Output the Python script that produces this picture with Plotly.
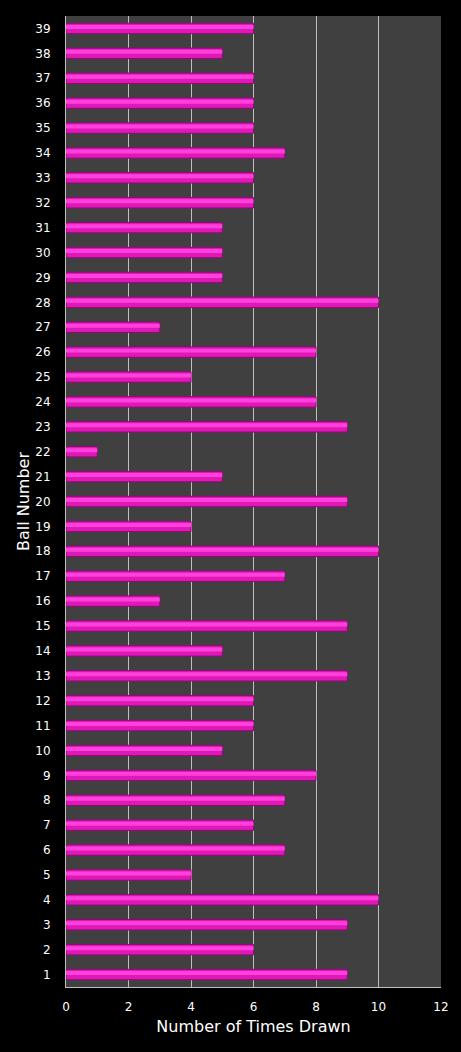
import plotly.graph_objects as go

balls = list(range(1, 40))
times_drawn = [9, 6, 9, 10, 4, 7, 6, 7, 8, 5,
               6, 6, 9, 5, 9, 3, 7, 10, 4, 9,
               5, 1, 9, 8, 4, 8, 3, 10, 5, 5,
               5, 6, 6, 7, 6, 6, 6, 5, 6]
x_ticks = [0, 2, 4, 6, 8, 10, 12]

fig = go.Figure()
fig.add_trace(go.Bar(
    x=times_drawn, y=balls, orientation="h", width=0.42,
    marker=dict(color="#E018B8", line=dict(color="#8A0C72", width=1)),
    hoverinfo="x+y", showlegend=False,
))
fig.add_trace(go.Bar(
    x=times_drawn, y=balls, orientation="h", width=0.16, offset=-0.02,
    marker=dict(color="#FF40DC", line=dict(width=0)),
    hoverinfo="skip", showlegend=False,
))
fig.update_layout(
    width=461, height=1052,
    paper_bgcolor="#000000", plot_bgcolor="#404040",
    margin=dict(l=66, r=20, t=16, b=65),
    barmode="overlay",
    font=dict(family="DejaVu Sans", color="#FFFFFF", size=12),
    xaxis=dict(range=[0, 12], tickvals=x_ticks, showgrid=True,
               gridcolor="#BFBFBF", gridwidth=1, zeroline=False,
               showline=True, linecolor="#BFBFBF", linewidth=1,
               ticks="outside", ticklen=9, tickcolor="rgba(0,0,0,0)",
               tickfont=dict(size=12, color="#FFFFFF"),
               title=dict(text="Number of Times Drawn", font=dict(size=16, color="#FFFFFF"), standoff=7)),
    yaxis=dict(range=[0.5, 39.5], tickvals=balls, ticktext=[str(b) for b in balls],
               showgrid=False, zeroline=False, showline=True,
               linecolor="#BFBFBF", linewidth=1,
               ticks="outside", ticklen=12, tickcolor="rgba(0,0,0,0)",
               tickfont=dict(size=12, color="#FFFFFF"),
               title=dict(text="Ball Number", font=dict(size=16, color="#FFFFFF"), standoff=1)),
)
fig.write_html("out.html", config={"displayModeBar": False},
               post_script="document.body.style.margin='0';document.body.style.background='#000';")
